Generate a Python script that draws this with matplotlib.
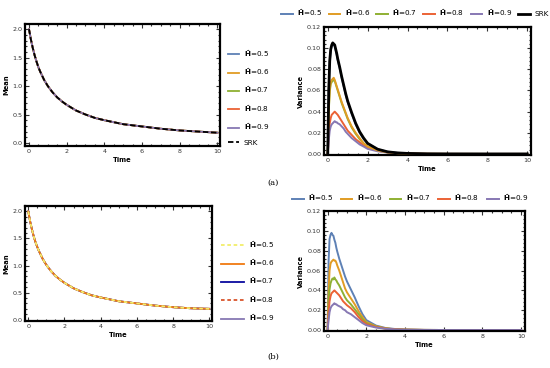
import numpy as np
import matplotlib
matplotlib.use('Agg')
import matplotlib.pyplot as plt
from matplotlib.ticker import AutoMinorLocator

# mean curves (all H values and SRK coincide)
tm = [0, 0.1, 0.2, 0.3, 0.4, 0.5, 0.6, 0.8, 1.0, 1.25, 1.5, 1.75, 2.0, 2.5, 3.0, 3.5, 4.0, 5.0, 6.0, 7.0, 8.0, 9.0, 10.0]
mean_a = [2.0, 1.82, 1.67, 1.54, 1.43, 1.33, 1.25, 1.11, 1.0, 0.89, 0.80, 0.73, 0.67, 0.57, 0.50, 0.44, 0.40, 0.33, 0.29, 0.25, 0.22, 0.20, 0.18]
mean_b = [2.0, 1.82, 1.67, 1.54, 1.43, 1.34, 1.26, 1.12, 1.01, 0.90, 0.81, 0.74, 0.68, 0.58, 0.51, 0.45, 0.41, 0.34, 0.30, 0.26, 0.23, 0.21, 0.20]

# variance curves
tv = [0, 0.05, 0.1, 0.15, 0.2, 0.25, 0.3, 0.35, 0.4, 0.45, 0.5, 0.6, 0.7, 0.8, 0.9, 1.0,
      1.2, 1.4, 1.6, 1.8, 2.0, 2.5, 3.0, 3.5, 4.0, 5.0, 6.0, 8.0, 10.0]
var_a_srk = [0, 0.060, 0.088, 0.099, 0.103, 0.105, 0.104, 0.103, 0.099, 0.095, 0.090, 0.082, 0.073, 0.065, 0.057, 0.050,
             0.039, 0.029, 0.021, 0.015, 0.010, 0.0045, 0.002, 0.001, 0.0005, 0.0001, 0.00003, 0, 0]
var_a_05 = [0, 0.059, 0.087, 0.098, 0.102, 0.104, 0.103, 0.102, 0.098, 0.094, 0.089, 0.081, 0.072, 0.064, 0.056, 0.049,
            0.038, 0.028, 0.020, 0.014, 0.010, 0.0044, 0.002, 0.001, 0.0005, 0.0001, 0.00003, 0, 0]
var_a_06 = [0, 0.042, 0.061, 0.068, 0.070, 0.071, 0.072, 0.070, 0.067, 0.064, 0.061, 0.055, 0.049, 0.044, 0.039, 0.034,
            0.026, 0.020, 0.015, 0.010, 0.007, 0.0033, 0.0015, 0.0007, 0.0003, 0.0001, 0.00003, 0, 0]
var_a_07 = [0, 0.040, 0.059, 0.066, 0.068, 0.069, 0.070, 0.069, 0.066, 0.063, 0.060, 0.054, 0.048, 0.043, 0.038, 0.033,
            0.025, 0.019, 0.014, 0.010, 0.007, 0.0032, 0.0015, 0.0007, 0.0003, 0.0001, 0.00003, 0, 0]
var_a_08 = [0, 0.018, 0.029, 0.034, 0.037, 0.038, 0.039, 0.040, 0.039, 0.038, 0.037, 0.034, 0.031, 0.028, 0.025, 0.022,
            0.018, 0.014, 0.011, 0.008, 0.006, 0.003, 0.0015, 0.0007, 0.0003, 0.0001, 0.00003, 0, 0]
var_a_09 = [0, 0.013, 0.022, 0.026, 0.028, 0.029, 0.030, 0.031, 0.030, 0.030, 0.029, 0.028, 0.026, 0.024, 0.021, 0.019,
            0.015, 0.012, 0.009, 0.007, 0.0048, 0.0025, 0.0013, 0.0006, 0.0003, 0.0001, 0.00003, 0, 0]

var_b_05 = [0, 0.070, 0.092, 0.096, 0.098, 0.096, 0.095, 0.091, 0.088, 0.083, 0.079, 0.072, 0.066, 0.060, 0.054, 0.049,
            0.041, 0.033, 0.024, 0.016, 0.010, 0.0045, 0.002, 0.001, 0.0005, 0.0001, 0.00003, 0, 0]
var_b_06 = [0, 0.040, 0.060, 0.067, 0.069, 0.070, 0.071, 0.070, 0.070, 0.068, 0.065, 0.060, 0.054, 0.048, 0.042, 0.038,
            0.032, 0.026, 0.019, 0.013, 0.008, 0.0038, 0.0017, 0.0008, 0.0004, 0.0001, 0.00003, 0, 0]
var_b_07 = [0, 0.027, 0.041, 0.047, 0.050, 0.052, 0.051, 0.053, 0.051, 0.050, 0.048, 0.045, 0.041, 0.037, 0.033, 0.030,
            0.026, 0.021, 0.016, 0.011, 0.007, 0.0033, 0.0015, 0.0007, 0.0003, 0.0001, 0.00003, 0, 0]
var_b_08 = [0, 0.018, 0.029, 0.034, 0.037, 0.038, 0.039, 0.040, 0.039, 0.038, 0.037, 0.035, 0.032, 0.029, 0.027, 0.025,
            0.022, 0.018, 0.013, 0.009, 0.006, 0.003, 0.0014, 0.0007, 0.0003, 0.0001, 0.00003, 0, 0]
var_b_09 = [0, 0.010, 0.018, 0.022, 0.024, 0.025, 0.026, 0.027, 0.026, 0.026, 0.025, 0.024, 0.023, 0.021, 0.020, 0.018,
            0.016, 0.013, 0.010, 0.007, 0.0048, 0.0025, 0.0012, 0.0006, 0.0003, 0.0001, 0.00003, 0, 0]

hvals = ['0.5', '0.6', '0.7', '0.8', '0.9']
labels = [r'$\mathbf{\tilde{H}}$=' + h for h in hvals]
cols = ['#5E81B5', '#E19C24', '#8FB032', '#EB6235', '#8778B3']

fs = 4.6


def style(ax, xlim, ylim, yticks, yfmt, ylabel):
    ax.set_xlim(*xlim)
    ax.set_ylim(*ylim)
    ax.set_xticks([0, 2, 4, 6, 8, 10])
    ax.set_yticks(yticks)
    ax.set_yticklabels([yfmt % v for v in yticks])
    ax.xaxis.set_minor_locator(AutoMinorLocator(4))
    ax.yaxis.set_minor_locator(AutoMinorLocator(5))
    ax.tick_params(which='both', direction='in', top=True, right=True,
                   labelsize=fs, colors='#333333', pad=2, width=0.8)
    ax.tick_params(which='major', length=3)
    ax.tick_params(which='minor', length=1.5)
    for s in ax.spines.values():
        s.set_linewidth(1.6)
        s.set_color('black')
    ax.set_xlabel('Time', fontsize=fs + 0.3, fontweight='bold', labelpad=2)
    ax.set_ylabel(ylabel, fontsize=fs + 0.3, fontweight='bold', labelpad=2)


fig = plt.figure(figsize=(5.5, 3.68), dpi=100)

# (a) mean
ax1 = fig.add_axes([0.0455, 0.6033, 0.3545, 0.3315])
for c, l in zip(cols, labels):
    ax1.plot(tm, mean_a, color=c, lw=1.3, label=l)
ax1.plot(tm, mean_a, color='black', lw=1.3, ls=(0, (3, 1.5)), label='SRK')
style(ax1, (-0.21, 10.14), (-0.053, 2.09), [0.0, 0.5, 1.0, 1.5, 2.0], '%.1f', 'Mean')
ax1.legend(loc='upper left', bbox_to_anchor=(225 / 550, 1 - 45 / 368), bbox_transform=fig.transFigure,
           frameon=False, fontsize=fs + 0.6, handlelength=1.6, labelspacing=1.05, borderaxespad=0,
           handletextpad=0.6)

# (a) variance
ax2 = fig.add_axes([0.589, 0.5788, 0.3764, 0.3478])
zs = [2, 3, 2, 2, 2]
for ys, c, l, z in zip([var_a_05, var_a_06, var_a_07, var_a_08, var_a_09], cols, labels, zs):
    ax2.plot(tv, ys, color=c, lw=1.4, label=l, zorder=z)
ax2.plot(tv, var_a_srk, color='black', lw=2.0, label='SRK', zorder=4)
style(ax2, (-0.19, 10.19), (-0.001, 0.12), [0.0, 0.02, 0.04, 0.06, 0.08, 0.10, 0.12], '%.2f', 'Variance')
ax2.legend(loc='center', bbox_to_anchor=(415 / 550, 1 - 13 / 368), bbox_transform=fig.transFigure,
           ncol=6, frameon=False, fontsize=fs + 0.6, handlelength=1.6, columnspacing=0.9,
           handletextpad=0.6, borderaxespad=0)

# (b) mean
ax3 = fig.add_axes([0.0455, 0.1277, 0.34, 0.3125])
ax3.plot(tm, mean_b, color='#0A0A9E', lw=1.3, label=labels[2])
ax3.plot(tm, mean_b, color='#8778B3', lw=1.3, label=labels[4])
ax3.plot(tm, mean_b, color='#F07A10', lw=1.3, label=labels[1])
ax3.plot(tm, mean_b, color='#D9542B', lw=1.3, ls=(0, (2, 1.5)), label=labels[3])
ax3.plot(tm, mean_b, color='#F2EE6B', lw=1.3, ls=(0, (2, 1.5)), label=labels[0])
style(ax3, (-0.18, 10.15), (-0.025, 2.1), [0.0, 0.5, 1.0, 1.5, 2.0], '%.1f', 'Mean')
h, l = ax3.get_legend_handles_labels()
order = [4, 2, 0, 3, 1]
ax3.legend([h[i] for i in order], [l[i] for i in order], loc='upper left',
           bbox_to_anchor=(218 / 550, 1 - 236 / 368), bbox_transform=fig.transFigure,
           frameon=False, fontsize=fs + 0.6, handlelength=3.2, labelspacing=1.05, borderaxespad=0,
           handletextpad=0.7)

# (b) variance
ax4 = fig.add_axes([0.589, 0.1005, 0.3655, 0.326])
for ys, c, l in zip([var_b_05, var_b_06, var_b_07, var_b_08, var_b_09], cols, labels):
    ax4.plot(tv, ys, color=c, lw=1.4, label=l)
style(ax4, (-0.19, 10.2), (-0.001, 0.12), [0.0, 0.02, 0.04, 0.06, 0.08, 0.10, 0.12], '%.2f', 'Variance')
ax4.legend(loc='center', bbox_to_anchor=(410 / 550, 1 - 198 / 368), bbox_transform=fig.transFigure,
           ncol=5, frameon=False, fontsize=fs + 0.6, handlelength=1.6, columnspacing=1.1,
           handletextpad=0.6, borderaxespad=0)

fig.text(273 / 550, 1 - 183 / 368, '(a)', ha='center', va='center', fontsize=6, family='DejaVu Serif')
fig.text(273 / 550, 1 - 357 / 368, '(b)', ha='center', va='center', fontsize=6, family='DejaVu Serif')

fig.savefig('out.png', dpi=100)
